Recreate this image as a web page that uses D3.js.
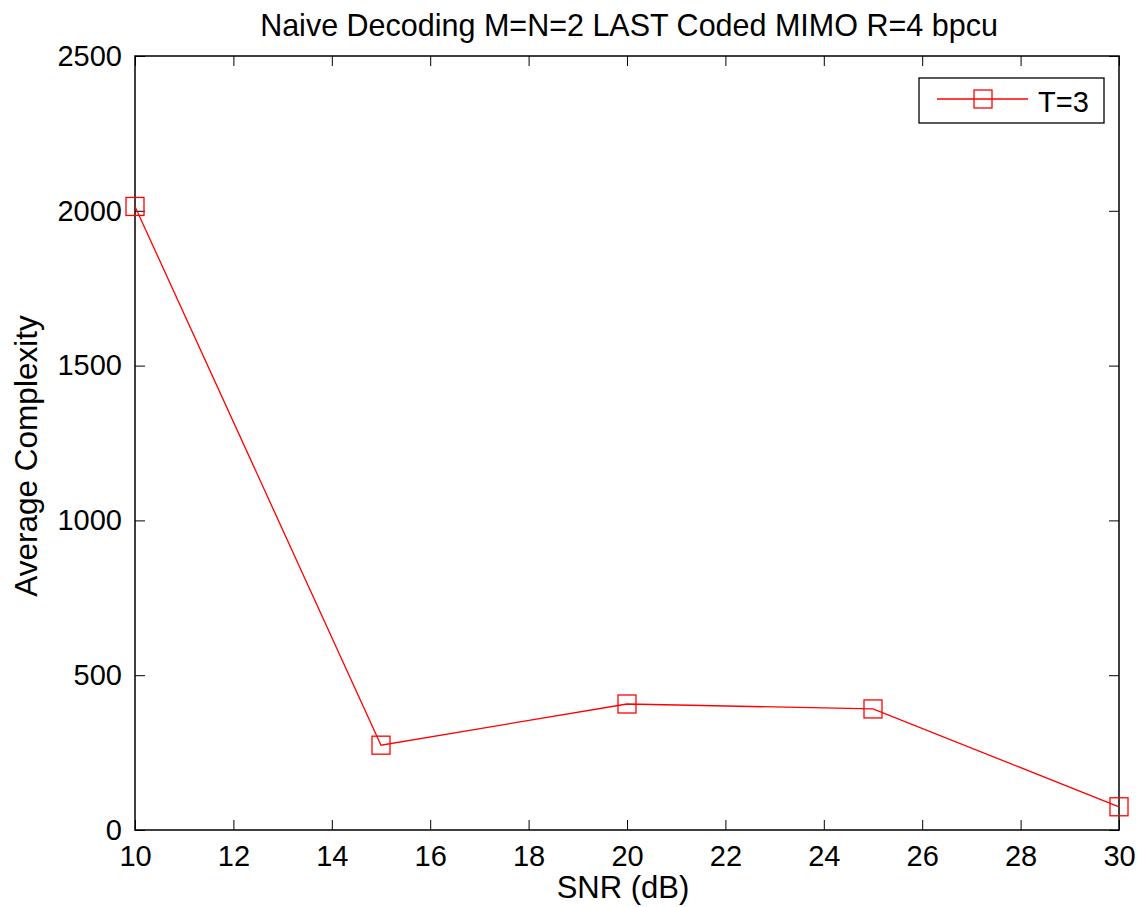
<!DOCTYPE html>
<html>
<head>
<meta charset="utf-8">
<script src="https://cdn.jsdelivr.net/npm/d3@7"></script>
<style>
  html, body { margin: 0; padding: 0; background: #fff; }
  svg { display: block; font-family: "Liberation Sans", Arial, Helvetica, sans-serif; }
</style>
</head>
<body>
<svg id="chart" width="1140" height="907"></svg>
<script>
// SNR points (dB) and measured average complexity for T=3
const snr = [10, 15, 20, 25, 30];
const complexity = [2014, 274, 407, 391, 75];
const xTicks = [10, 12, 14, 16, 18, 20, 22, 24, 26, 28, 30];
const yTicks = [0, 500, 1000, 1500, 2000, 2500];
const seriesName = "T=3";

const svg = d3.select("#chart");
const m = { left: 135, right: 1119, top: 56, bottom: 830 };

const x = d3.scaleLinear().domain([10, 30]).range([m.left, m.right]);
const y = d3.scaleLinear().domain([0, 2500]).range([m.bottom, m.top]);

const fs = 29;       // tick labels and legend
const labelFs = 31;  // title and axis labels
const tickLen = 10;

// Axes with inward ticks on all four sides
const axisG = svg.append("g");
const bottomAxis = d3.axisBottom(x).tickValues(xTicks).tickSize(-tickLen).tickPadding(15).tickFormat(d3.format("d"));
const topAxis = d3.axisTop(x).tickValues(xTicks).tickSize(-tickLen).tickFormat("");
const leftAxis = d3.axisLeft(y).tickValues(yTicks).tickSize(-tickLen).tickPadding(13).tickFormat(d3.format("d"));
const rightAxis = d3.axisRight(y).tickValues(yTicks).tickSize(-tickLen).tickFormat("");

function styleAxis(g) {
  g.select(".domain").remove();
  g.selectAll(".tick line").attr("stroke", "#000").attr("stroke-width", 1);
  g.selectAll(".tick text").attr("fill", "#000").attr("font-size", fs)
    .attr("font-family", "Liberation Sans, Arial, sans-serif");
}
axisG.append("g").attr("transform", `translate(0,${m.bottom})`).call(bottomAxis).call(styleAxis);
axisG.append("g").attr("transform", `translate(0,${m.top})`).call(topAxis).call(styleAxis);
axisG.append("g").attr("transform", `translate(${m.left},0)`).call(leftAxis).call(styleAxis);
axisG.append("g").attr("transform", `translate(${m.right},0)`).call(rightAxis).call(styleAxis);

// Plot box
svg.append("rect")
  .attr("x", m.left).attr("y", m.top)
  .attr("width", m.right - m.left).attr("height", m.bottom - m.top)
  .attr("fill", "none").attr("stroke", "#000").attr("stroke-width", 1.5);

// Data line
const pts = snr.map((s, i) => [s, complexity[i]]);
const line = d3.line().x(d => x(d[0])).y(d => y(d[1]));
svg.append("path").datum(pts)
  .attr("d", line).attr("fill", "none")
  .attr("stroke", "#ff0000").attr("stroke-width", 1.3);

const ms = 18;
svg.append("g").selectAll("rect").data(pts).join("rect")
  .attr("x", d => x(d[0]) - ms / 2).attr("y", d => y(d[1]) - ms / 2)
  .attr("width", ms).attr("height", ms)
  .attr("fill", "none").attr("stroke", "#ff0000").attr("stroke-width", 1.3);

// Title and axis labels
svg.append("text").attr("x", 629).attr("y", 36)
  .attr("text-anchor", "middle").attr("font-size", 30.5).text("Naive Decoding M=N=2 LAST Coded MIMO R=4 bpcu");
svg.append("text").attr("x", 623).attr("y", 898)
  .attr("text-anchor", "middle").attr("font-size", labelFs).text("SNR (dB)");
svg.append("text")
  .attr("transform", `translate(37,456) rotate(-90)`)
  .attr("text-anchor", "middle").attr("font-size", 31.5).text("Average Complexity");

// Legend
const lg = svg.append("g");
lg.append("rect").attr("x", 919).attr("y", 78).attr("width", 185).attr("height", 45)
  .attr("fill", "#fff").attr("stroke", "#000").attr("stroke-width", 1.3);
lg.append("line").attr("x1", 937).attr("x2", 1028).attr("y1", 99).attr("y2", 99)
  .attr("stroke", "#ff0000").attr("stroke-width", 1.3);
lg.append("rect").attr("x", 983 - ms / 2).attr("y", 99 - ms / 2).attr("width", ms).attr("height", ms)
  .attr("fill", "none").attr("stroke", "#ff0000").attr("stroke-width", 1.3);
lg.append("text").attr("x", 1038).attr("y", 112).attr("font-size", fs).text(seriesName);
</script>
</body>
</html>
